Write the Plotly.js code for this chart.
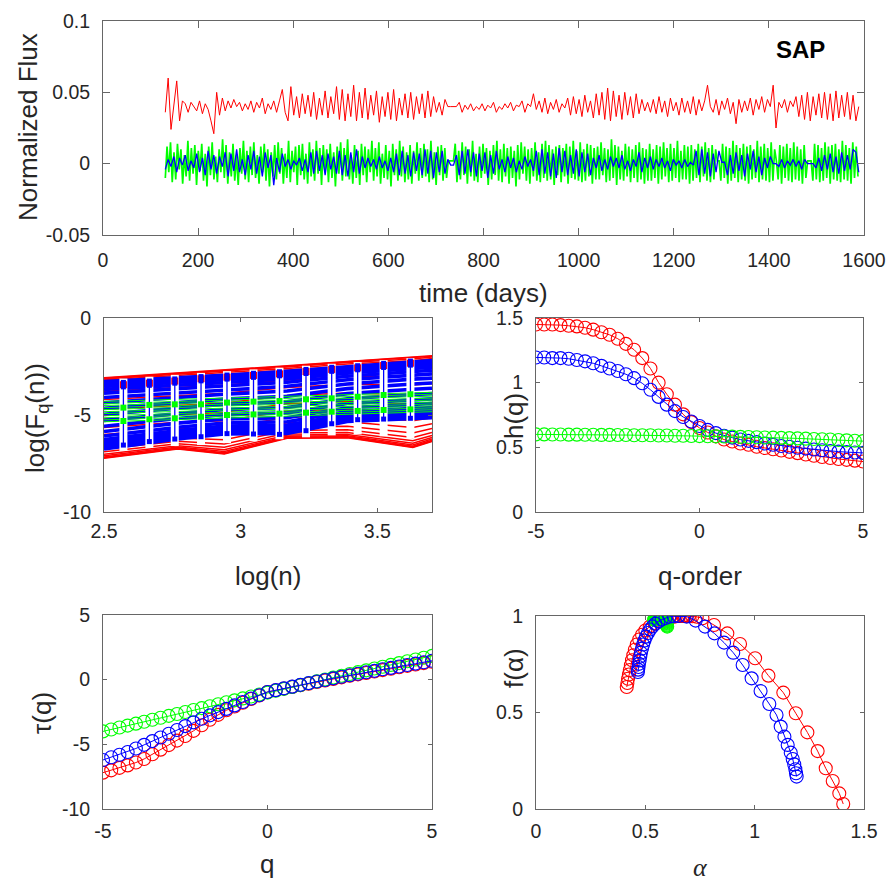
<!DOCTYPE html>
<html><head><meta charset="utf-8">
<script src="https://cdn.plot.ly/plotly-3.0.1.min.js"></script>
<style>html,body{margin:0;padding:0;background:#fff}#chart{width:890px;height:882px}</style>
</head><body><div id="chart"></div>
<script>
// ---------------- DATA ----------------
// Top panel: SAP light curves (regular cadence, start day + step)
const TIME_START = 131;
const RED_STEP = 6;
const BLUE_STEP = 6;
const GREEN_STEP = 3.65;

const SAP_RED = [
.036,.060,.024,.040,.058,.030,.044,.042,.036,.043,
.040,.037,.044,.035,.042,.038,.030,.021,.050,.034,
.046,.037,.044,.039,.045,.040,.043,.037,.042,.038,
.044,.036,.043,.039,.046,.035,.042,.038,.044,.036,
.044,.052,.036,.030,.054,.034,.047,.032,.049,.035,
.048,.033,.050,.031,.046,.034,.051,.032,.047,.035,
.054,.031,.052,.030,.049,.033,.055,.030,.050,.032,
.053,.031,.048,.034,.051,.029,.047,.033,.050,.031,
.052,.030,.046,.034,.049,.032,.050,.031,.047,.035,
.049,.032,.051,.033,.047,.036,.043,.034,.045,.040,
.040,.040,.040,.043,.036,.041,.038,.042,.037,.040,
.038,.042,.037,.041,.039,.043,.036,.040,.038,.042,
.039,.043,.037,.041,.040,.044,.036,.042,.040,.049,
.038,.044,.036,.046,.035,.043,.038,.045,.036,.042,
.039,.046,.034,.047,.035,.045,.033,.048,.036,.044,
.032,.049,.034,.050,.031,.053,.030,.051,.033,.048,
.031,.050,.034,.047,.032,.049,.035,.045,.037,.043,
.036,.045,.035,.047,.036,.044,.033,.046,.037,.043,
.034,.046,.036,.044,.035,.047,.034,.045,.037,.044,
.055,.040,.036,.045,.034,.044,.038,.046,.035,.043,
.028,.045,.036,.044,.037,.046,.034,.045,.038,.047,
.036,.045,.040,.055,.025,.043,.039,.045,.036,.044,
.040,.047,.033,.048,.031,.050,.030,.047,.034,.049,
.032,.050,.031,.049,.030,.051,.032,.048,.033,.050,
.031,.048,.030,.040];

const SAP_BLUE = [
-.004,.003,-.002,.005,-.006,.004,-.001,.006,-.005,.002,
-.003,.007,-.006,.004,-.008,.009,-.004,.006,-.007,.005,
-.002,.008,-.009,.007,-.005,.010,-.006,.003,-.008,.006,
-.004,.009,-.007,.005,-.009,.008,-.003,.006,-.015,.004,
-.006,.007,-.002,.003,-.004,.002,-.001,.004,-.005,.003,
-.006,.008,-.007,.009,-.005,.006,-.008,.007,-.004,.005,
-.007,.009,-.008,.006,-.009,.008,-.006,.010,-.007,.005,
-.003,.004,-.002,.003,-.004,.005,-.003,.002,-.005,.004,
-.006,.007,-.008,.009,-.007,.006,-.009,.008,-.005,.007,
-.008,.010,-.007,.009,-.010,.008,-.006,.009,-.007,.003,
-.001,-.001,.006,-.008,.009,-.007,.010,-.006,.008,-.009,
.007,-.005,.008,-.010,.006,-.007,.009,-.004,.003,-.006,
.005,-.003,.004,-.006,.002,-.004,.005,-.002,.003,-.005,
.009,-.008,.010,-.007,.008,-.009,.007,-.010,.011,-.006,
.009,-.008,.006,-.007,.010,-.009,.008,-.006,.007,-.008,
.004,-.003,.006,-.005,.003,-.004,.005,-.002,.004,-.003,
.006,-.004,.002,-.005,.003,-.002,.008,-.006,.004,-.003,
.005,-.004,.003,-.002,.004,-.003,.002,-.005,.003,-.001,
.002,-.003,.003,-.002,.001,-.001,.009,-.008,.010,-.007,
.008,-.009,.007,-.006,.009,.001,.001,-.008,.006,-.007,
.008,-.005,.006,-.009,.007,-.004,.009,-.006,.005,-.008,
.004,-.003,.005,.000,.000,-.002,.003,-.003,.002,-.001,
.003,-.002,.002,-.004,.003,.000,.000,.000,-.003,.004,
-.005,.006,-.004,.007,-.006,.005,-.007,.008,-.005,.006,
-.004,.010,.008,-.006];

const SAP_GREEN = [
-.010,.012,-.006,.015,-.013,.008,-.011,.014,-.004,.010,
-.014,.006,-.009,.016,-.012,.011,-.007,.013,-.015,.009,
-.005,.014,-.012,.007,-.016,.012,-.008,.015,-.011,.005,
-.013,.010,-.006,.017,-.010,.013,-.014,.008,-.009,.014,
-.012,.006,-.015,.011,-.007,.016,-.011,.009,-.013,.012,
-.008,.015,-.010,.006,-.014,.012,-.006,.014,-.012,.010,
-.016,.008,-.009,.013,-.011,.015,-.007,.011,-.014,.007,
-.010,.016,-.013,.009,-.006,.012,-.015,.013,-.008,.014,
-.011,.007,-.014,.015,-.009,.010,-.012,.016,-.007,.011,
-.015,.013,-.006,.010,-.013,.014,-.010,.008,-.016,.012,
-.007,.015,-.012,.011,-.009,.017,-.011,.006,-.014,.013,
-.010,.009,-.015,.014,-.008,.012,-.013,.010,-.006,.016,
-.012,.011,-.009,.015,-.014,.007,-.010,.013,-.011,.009,
-.016,.014,-.008,.010,-.012,.016,-.009,.012,-.013,.008,
-.011,.013,-.014,.009,-.007,.015,-.012,.011,-.010,.014,
-.009,.010,-.013,.016,-.011,.008,-.015,.012,-.008,.013,
-.012,.011,-.010,.002,.002,.002,.002,.014,-.013,.009,
-.011,.015,-.008,.012,-.014,.010,-.009,.016,-.012,.007,
-.013,.012,-.010,.014,-.007,.011,-.015,.009,-.011,.013,
-.008,.016,-.012,.010,-.013,.014,-.009,.011,-.014,.012,
-.010,.009,-.016,.013,-.011,.015,-.007,.012,-.012,.010,
-.014,.011,-.009,.015,-.012,.008,-.013,.014,-.010,.016,
-.012,.013,-.011,.010,-.015,.012,-.008,.013,-.013,.011,
-.009,.014,-.014,.012,-.010,.016,-.011,.009,-.012,.015,
-.013,.010,-.012,.014,-.009,.013,-.014,.011,-.011,.012,
-.011,.015,-.008,.011,-.013,.010,-.012,.017,-.010,.013,
-.015,.012,-.011,.009,-.012,.014,-.009,.012,-.013,.010,
-.010,.013,-.013,.015,-.011,.011,-.014,.010,-.012,.014,
-.012,.010,-.010,.013,-.014,.012,-.011,.015,-.009,.011,
-.013,.014,-.012,.011,-.010,.016,-.013,.009,-.011,.013,
-.011,.012,-.014,.013,-.012,.010,-.010,.014,-.013,.012,
-.009,.015,-.012,.011,-.013,.013,-.011,.010,.002,.002,
-.012,.014,-.010,.012,-.014,.011,-.012,.016,-.010,.013,
-.013,.011,-.011,.014,-.012,.012,-.014,.013,-.011,.010,
-.010,.016,-.013,.012,-.011,.014,-.012,.011,-.013,.015,
-.012,.010,.002,-.011,.013,-.014,.012,-.010,.014,-.012,
.011,-.013,.015,-.011,.012,-.012,.010,-.014,.013,-.010,
.002,.002,.002,-.012,.014,-.011,.013,-.013,.011,-.012,
.015,-.010,.012,-.014,.013,-.011,.014,-.012,.010,-.013,
.016,-.011,.013,-.012,.011,-.014,.015,-.010,.012,-.009];

// Fluctuation functions log(Fq(n)), one row per q
const LOGN_NODES = [2.5, 2.77, 2.94, 3.17, 3.39, 3.63, 3.70];
const FQ_RED = [
[-7.23,-6.75,-7.01,-6.20,-6.17,-6.68,-6.37],
[-7.20,-6.73,-6.98,-6.18,-6.15,-6.65,-6.34],
[-7.16,-6.70,-6.94,-6.15,-6.12,-6.61,-6.30],
[-7.10,-6.65,-6.88,-6.10,-6.07,-6.55,-6.24],
[-7.02,-6.58,-6.79,-6.03,-6.00,-6.46,-6.16],
[-6.90,-6.48,-6.66,-5.93,-5.90,-6.33,-6.05],
[-6.75,-6.35,-6.49,-5.80,-5.76,-6.16,-5.90],
[-6.55,-6.18,-6.27,-5.62,-5.58,-5.93,-5.70],
[-6.30,-5.97,-6.00,-5.40,-5.35,-5.65,-5.45],
[-6.00,-5.70,-5.68,-5.12,-5.05,-5.30,-5.14],
[-5.65,-5.38,-5.30,-4.80,-4.70,-4.90,-4.78],
[-5.20,-4.98,-4.86,-4.42,-4.30,-4.45,-4.36],
[-4.70,-4.52,-4.38,-4.00,-3.86,-3.96,-3.88],
[-4.20,-4.02,-3.88,-3.58,-3.42,-3.45,-3.38],
[-3.78,-3.58,-3.45,-3.20,-3.02,-2.98,-2.90],
[-3.48,-3.26,-3.12,-2.90,-2.70,-2.60,-2.50],
[-3.30,-3.06,-2.92,-2.71,-2.49,-2.35,-2.24],
[-3.20,-2.96,-2.81,-2.60,-2.37,-2.20,-2.09],
[-3.14,-2.90,-2.75,-2.53,-2.30,-2.11,-2.01],
[-3.10,-2.86,-2.71,-2.49,-2.26,-2.06,-1.97],
[-3.08,-2.84,-2.68,-2.46,-2.24,-2.03,-1.94]];
const FQ_BLUE = [
[-6.75,-6.23,-5.98,-5.95,-5.33,-5.17,-5.14],
[-6.70,-6.18,-5.94,-5.91,-5.29,-5.13,-5.10],
[-6.63,-6.12,-5.88,-5.85,-5.24,-5.08,-5.05],
[-6.54,-6.04,-5.80,-5.77,-5.17,-5.01,-4.98],
[-6.42,-5.93,-5.70,-5.66,-5.08,-4.92,-4.89],
[-6.27,-5.80,-5.57,-5.52,-4.97,-4.80,-4.77],
[-6.08,-5.63,-5.41,-5.35,-4.82,-4.64,-4.61],
[-5.85,-5.42,-5.21,-5.14,-4.63,-4.44,-4.41],
[-5.58,-5.18,-4.98,-4.89,-4.41,-4.21,-4.17],
[-5.28,-4.91,-4.72,-4.61,-4.16,-3.94,-3.90],
[-4.97,-4.63,-4.45,-4.32,-3.90,-3.67,-3.62],
[-4.66,-4.35,-4.18,-4.03,-3.64,-3.40,-3.35],
[-4.37,-4.09,-3.93,-3.76,-3.40,-3.15,-3.10],
[-4.10,-3.85,-3.70,-3.52,-3.18,-2.93,-2.88],
[-3.87,-3.64,-3.50,-3.31,-3.00,-2.75,-2.69],
[-3.68,-3.47,-3.33,-3.14,-2.85,-2.60,-2.54],
[-3.53,-3.33,-3.20,-3.00,-2.73,-2.48,-2.42],
[-3.42,-3.23,-3.10,-2.90,-2.64,-2.39,-2.33],
[-3.35,-3.16,-3.03,-2.83,-2.58,-2.33,-2.26],
[-3.31,-3.12,-2.99,-2.78,-2.54,-2.29,-2.22],
[-3.28,-3.09,-2.96,-2.75,-2.51,-2.26,-2.19]];
const LOGN_GREEN_NODES = [2.5, 3.70];
const FQ_GREEN = [
[-5.35,-4.83],[-5.25,-4.73],[-5.14,-4.63],[-5.04,-4.53],[-4.93,-4.43],[-4.83,-4.33],
[-4.72,-4.23],[-4.62,-4.13],[-4.51,-4.03],[-4.41,-3.93],[-4.30,-3.83]];

// Scale points with error columns
const LOGN_BAR = [2.571,2.666,2.759,2.855,2.950,3.047,3.142,3.239,3.333,3.428,3.523,3.621];
const WHITE_TOP = [-3.12,-3.03,-2.93,-2.83,-2.74,-2.65,-2.56,-2.46,-2.36,-2.27,-2.17,-2.07];
const WHITE_BOT = [-6.85,-6.70,-6.60,-6.55,-6.45,-6.35,-6.25,-6.15,-6.05,-6.00,-6.10,-6.20];
const BLUE_TOP_MK = [-3.32,-3.25,-3.14,-3.02,-2.94,-2.85,-2.77,-2.65,-2.54,-2.46,-2.34,-2.22];
const BLUE_TOP2_MK = [-3.55,-3.47,-3.36,-3.24,-3.15,-3.06,-2.98,-2.86,-2.75,-2.67,-2.55,-2.43];
const RED_MK = [-3.44,-3.36,-3.25,-3.13,-3.05,-2.96,-2.88,-2.76,-2.65,-2.57,-2.45,-2.33];
const BLUE_BOT_MK = [-6.55,-6.37,-6.24,-6.12,-5.96,-5.98,-6.00,-5.81,-5.45,-5.24,-5.21,-5.17];
const GREEN_HI_MK = [-4.62,-4.48,-4.45,-4.45,-4.36,-4.31,-4.28,-4.19,-4.14,-4.06,-3.97,-3.93];
const GREEN_LO_MK = [-5.31,-5.22,-5.17,-5.09,-5.00,-4.97,-4.93,-4.88,-4.83,-4.79,-4.74,-4.71];

// q-order
const Q = [-5,-4.75,-4.5,-4.25,-4,-3.75,-3.5,-3.25,-3,-2.75,-2.5,-2.25,-2,-1.75,-1.5,-1.25,-1,-0.75,-0.5,-0.25,
0,0.25,0.5,0.75,1,1.25,1.5,1.75,2,2.25,2.5,2.75,3,3.25,3.5,3.75,4,4.25,4.5,4.75,5];

const H_RED = [1.45,1.45,1.45,1.445,1.44,1.435,1.425,1.41,1.39,1.37,1.34,1.30,1.255,1.19,1.11,1.00,0.91,0.83,0.755,0.695,
0.65,0.615,0.585,0.56,0.545,0.53,0.52,0.505,0.495,0.485,0.475,0.465,0.455,0.445,0.435,0.425,0.418,0.41,0.403,0.397,0.39];
const H_BLUE = [1.195,1.195,1.19,1.19,1.185,1.175,1.165,1.15,1.13,1.11,1.09,1.065,1.035,0.995,0.945,0.89,0.83,0.78,0.735,0.70,
0.665,0.635,0.61,0.59,0.575,0.56,0.55,0.54,0.53,0.52,0.51,0.505,0.497,0.49,0.483,0.477,0.472,0.467,0.463,0.46,0.457];
const H_GREEN = [0.600,0.600,0.599,0.599,0.598,0.598,0.597,0.597,0.596,0.596,0.595,0.595,0.594,0.594,0.593,0.592,0.591,0.590,0.589,0.588,
0.587,0.586,0.585,0.584,0.583,0.581,0.580,0.578,0.576,0.575,0.573,0.571,0.569,0.567,0.565,0.562,0.560,0.557,0.554,0.551,0.548];

const TAU_RED = [-7.19,-7.01,-6.82,-6.63,-6.41,-6.13,-5.77,-5.41,-5.06,-4.71,-4.35,-3.96,-3.52,-3.10,-2.72,-2.37,-2.07,-1.78,-1.50,-1.22,
-0.95,-0.82,-0.69,-0.56,-0.43,-0.31,-0.18,-0.06,0.06,0.18,0.30,0.41,0.52,0.63,0.74,0.85,0.96,1.07,1.17,1.28,1.38];
const TAU_BLUE = [-6.21,-6.00,-5.80,-5.59,-5.32,-5.04,-4.75,-4.47,-4.18,-3.89,-3.59,-3.30,-3.02,-2.76,-2.51,-2.26,-1.99,-1.73,-1.46,-1.20,
-0.95,-0.81,-0.67,-0.54,-0.40,-0.27,-0.14,-0.02,0.10,0.22,0.34,0.46,0.57,0.68,0.80,0.91,1.02,1.13,1.24,1.35,1.46];
const TAU_GREEN = [-4.00,-3.85,-3.70,-3.55,-3.40,-3.25,-3.10,-2.95,-2.80,-2.65,-2.50,-2.35,-2.20,-2.05,-1.90,-1.75,-1.60,-1.45,-1.30,-1.15,
-1.00,-0.86,-0.71,-0.57,-0.42,-0.28,-0.13,0.01,0.16,0.30,0.44,0.58,0.72,0.86,1.00,1.14,1.28,1.42,1.56,1.70,1.84];

const ALPHA_RED = [1.405,1.387,1.357,1.325,1.288,1.241,1.188,1.131,1.063,1.002,0.933,0.875,0.814,0.761,0.735,0.715,0.70,0.69,0.68,0.675,
0.67,0.655,0.635,0.612,0.59,0.566,0.543,0.52,0.50,0.485,0.472,0.461,0.452,0.445,0.439,0.434,0.429,0.425,0.421,0.418,0.415];
const F_RED = [0.026,0.081,0.145,0.211,0.300,0.397,0.496,0.603,0.691,0.781,0.855,0.910,0.953,0.988,0.996,0.999,1.0,1.0,1.0,1.0,
1.0,1.0,0.997,0.993,0.985,0.975,0.962,0.945,0.925,0.903,0.878,0.852,0.825,0.797,0.771,0.745,0.72,0.697,0.675,0.653,0.632];
const ALPHA_BLUE = [1.192,1.189,1.186,1.181,1.174,1.165,1.151,1.136,1.119,1.10,1.067,1.027,0.986,0.945,0.902,0.86,0.816,0.773,0.73,0.689,
0.651,0.63,0.61,0.592,0.575,0.56,0.546,0.533,0.522,0.512,0.503,0.496,0.49,0.485,0.48,0.477,0.474,0.471,0.469,0.467,0.466];
const F_BLUE = [0.168,0.185,0.206,0.231,0.259,0.292,0.332,0.375,0.427,0.487,0.544,0.611,0.677,0.746,0.81,0.862,0.91,0.945,0.976,0.997,
1.0,0.999,0.996,0.99,0.982,0.972,0.96,0.946,0.93,0.912,0.893,0.873,0.852,0.831,0.81,0.79,0.77,0.752,0.736,0.722,0.71];
const ALPHA_GREEN = [0.600,0.599,0.598,0.597,0.596,0.595,0.594,0.593,0.592,0.591,0.590,0.589,0.588,0.587,0.586,0.585,0.584,0.583,0.582,0.581,
0.580,0.578,0.576,0.574,0.572,0.570,0.568,0.566,0.564,0.562,0.560,0.558,0.556,0.554,0.552,0.550,0.548,0.546,0.544,0.542,0.540];
const F_GREEN = [0.945,0.950,0.955,0.960,0.964,0.968,0.972,0.976,0.979,0.982,0.985,0.988,0.990,0.992,0.994,0.996,0.997,0.998,0.999,1.0,
1.0,1.0,0.999,0.998,0.997,0.996,0.995,0.994,0.993,0.992,0.991,0.990,0.989,0.988,0.987,0.986,0.985,0.984,0.983,0.982,0.981];

// Tick labels
const TOP_X_TICKS = [0,200,400,600,800,1000,1200,1400,1600];
const TOP_Y_TICKVALS = [-0.05,0,0.05,0.1];
const TOP_Y_TICKTEXT = ['-0.05','0','0.05','0.1'];
const FQ_X_TICKS = [2.5,3,3.5];
const FQ_Y_TICKVALS = [-10,-5,0];
const FQ_Y_TICKTEXT = ['-10','-5','0'];
const Q_TICKVALS = [-5,0,5];
const Q_TICKTEXT = ['-5','0','5'];
const H_TICKS = [0,0.5,1,1.5];
const TAU_TICKVALS = [-10,-5,0,5];
const TAU_TICKTEXT = ['-10','-5','0','5'];
const ALPHA_TICKS = [0,0.5,1,1.5];
const FA_TICKS = [0,0.5,1];

// ---------------- BUILD ----------------
const RED='#ff0000', BLUE='#0000ff', GREEN='#00ff00';
const W=890, H=882;
const FONT='Liberation Sans, Arial, sans-serif';

function bundle(nodes, rows){
  const x=[], y=[];
  rows.forEach(r=>{ nodes.forEach((n,i)=>{x.push(n); y.push(r[i]);}); x.push(null); y.push(null); });
  return {x, y};
}
function segs(xs, a, b){
  const x=[], y=[];
  xs.forEach((v,i)=>{ x.push(v,v,null); y.push(a[i],b[i],null); });
  return {x, y};
}

const traces = [];
// top panel
traces.push({type:'scatter',mode:'lines',x0:TIME_START,dx:GREEN_STEP,y:SAP_GREEN,line:{color:GREEN,width:1.7},xaxis:'x',yaxis:'y',hoverinfo:'skip'});
traces.push({type:'scatter',mode:'lines',x0:TIME_START,dx:BLUE_STEP,y:SAP_BLUE,line:{color:BLUE,width:1.3},xaxis:'x',yaxis:'y',hoverinfo:'skip'});
traces.push({type:'scatter',mode:'lines',x0:TIME_START,dx:RED_STEP,y:SAP_RED,line:{color:RED,width:1},xaxis:'x',yaxis:'y',hoverinfo:'skip'});

// Fq panel
const br=bundle(LOGN_NODES,FQ_RED), bb=bundle(LOGN_NODES,FQ_BLUE), bg=bundle(LOGN_GREEN_NODES,FQ_GREEN);
traces.push({type:'scatter',mode:'lines',x:br.x,y:br.y,line:{color:RED,width:1.5},xaxis:'x2',yaxis:'y2',hoverinfo:'skip'});
traces.push({type:'scatter',mode:'lines',x:bb.x,y:bb.y,line:{color:BLUE,width:3.6},xaxis:'x2',yaxis:'y2',hoverinfo:'skip'});
traces.push({type:'scatter',mode:'lines',x:bg.x,y:bg.y,line:{color:GREEN,width:1},xaxis:'x2',yaxis:'y2',hoverinfo:'skip'});
const wb=segs(LOGN_BAR,WHITE_TOP,WHITE_BOT);
traces.push({type:'scatter',mode:'lines',x:wb.x,y:wb.y,line:{color:'#ffffff',width:8},xaxis:'x2',yaxis:'y2',hoverinfo:'skip'});
const cb=segs(LOGN_BAR,BLUE_TOP_MK,BLUE_BOT_MK);
traces.push({type:'scatter',mode:'lines',x:cb.x,y:cb.y,line:{color:BLUE,width:1.3},xaxis:'x2',yaxis:'y2',hoverinfo:'skip'});
traces.push({type:'scatter',mode:'markers',x:LOGN_BAR,y:RED_MK,marker:{symbol:'square',size:7,color:RED},xaxis:'x2',yaxis:'y2',hoverinfo:'skip'});
traces.push({type:'scatter',mode:'markers',x:LOGN_BAR.concat(LOGN_BAR,LOGN_BAR),y:BLUE_TOP_MK.concat(BLUE_TOP2_MK,BLUE_BOT_MK),marker:{symbol:'square',size:5,color:BLUE},xaxis:'x2',yaxis:'y2',hoverinfo:'skip'});
traces.push({type:'scatter',mode:'markers',x:LOGN_BAR.concat(LOGN_BAR),y:GREEN_HI_MK.concat(GREEN_LO_MK),marker:{symbol:'square',size:6,color:GREEN},xaxis:'x2',yaxis:'y2',hoverinfo:'skip'});

function circ(x,y,c,xa,ya){
  return {type:'scatter',mode:'lines+markers',x:x,y:y,line:{color:c,width:1},
    marker:{symbol:'circle-open',size:13,color:c,line:{width:1.1,color:c}},xaxis:xa,yaxis:ya,hoverinfo:'skip'};
}
// h(q)
traces.push(circ(Q,H_RED,RED,'x3','y3'));
traces.push(circ(Q,H_BLUE,BLUE,'x3','y3'));
traces.push(circ(Q,H_GREEN,GREEN,'x3','y3'));
// tau(q)
traces.push(circ(Q,TAU_RED,RED,'x4','y4'));
traces.push(circ(Q,TAU_GREEN,GREEN,'x4','y4'));
traces.push(circ(Q,TAU_BLUE,BLUE,'x4','y4'));
// f(alpha)
traces.push(circ(ALPHA_RED,F_RED,RED,'x5','y5'));
traces.push(circ(ALPHA_GREEN,F_GREEN,GREEN,'x5','y5'));
traces.push(circ(ALPHA_BLUE,F_BLUE,BLUE,'x5','y5'));

const dx=(a,b)=>[a/W,b/W];
const dy=(top,bot)=>[1-bot/H,1-top/H];
function axis(domain, range, vals, text, anchor, tl, standoff){
  return {domain, range, tickmode:'array', tickvals:vals, ticktext:text||vals.map(String),
    showline:true, mirror:'ticks', linecolor:'#666', linewidth:1, ticks:'inside', ticklen:tl, tickcolor:'#666', tickwidth:1,
    tickfont:{family:FONT,size:19.5,color:'#262626'}, showgrid:false, zeroline:false, anchor, fixedrange:true,
    ticklabelstandoff:standoff};
}
const layout = {
  width:W, height:H, margin:{l:0,r:0,t:0,b:0}, paper_bgcolor:'#fff', plot_bgcolor:'#fff', showlegend:false,
  xaxis: axis(dx(103,864),[0,1600],TOP_X_TICKS,null,'y',7,8),
  yaxis: axis(dy(21,235),[-0.05,0.1],TOP_Y_TICKVALS,TOP_Y_TICKTEXT,'x',7,8),
  xaxis2: axis(dx(104,432),[2.5,3.70],FQ_X_TICKS,null,'y2',4,2),
  yaxis2: axis(dy(318,512),[-10,0],FQ_Y_TICKVALS,FQ_Y_TICKTEXT,'x2',4,8),
  xaxis3: axis(dx(536,863),[-5,5],Q_TICKVALS,Q_TICKTEXT,'y3',4,2),
  yaxis3: axis(dy(318,512),[0,1.5],H_TICKS,null,'x3',4,8),
  xaxis4: axis(dx(103,432),[-5,5],Q_TICKVALS,Q_TICKTEXT,'y4',4,5),
  yaxis4: axis(dy(615,809),[-10,5],TAU_TICKVALS,TAU_TICKTEXT,'x4',4,8),
  xaxis5: axis(dx(536,864),[0,1.5],ALPHA_TICKS,null,'y5',4,5),
  yaxis5: axis(dy(616,809),[0,1],FA_TICKS,null,'x5',4,8),
  annotations: []
};
function ann(text,px,py,rot,size,extra){
  return Object.assign({text, xref:'paper', yref:'paper', x:px/W, y:1-py/H, xanchor:'center', yanchor:'middle',
    showarrow:false, textangle:rot||0, font:{family:FONT,size:size||26,color:'#262626'}}, extra||{});
}
layout.annotations.push(ann('Normalized Flux',28,127,-90));
layout.annotations.push(ann('time (days)',483,293));
layout.annotations.push(ann('log(F<sub>q</sub>(n))',37,418,-90));
layout.annotations.push(ann('log(n)',268,576));
layout.annotations.push(ann('h(q)',514,416,-90));
layout.annotations.push(ann('q-order',700,576));
layout.annotations.push(ann('τ(q)',42,713,-90));
layout.annotations.push(ann('q',267,864));
layout.annotations.push(ann('f(α)',514,668,-90));
layout.annotations.push(ann('<i>α</i>',700,867,0,26,{font:{family:'Liberation Serif, serif',size:26,color:'#262626'}}));
layout.annotations.push(ann('<b>SAP</b>',800,50,0,24,{font:{family:FONT,size:24,color:'#000'}}));

Plotly.newPlot('chart', traces, layout, {staticPlot:true, displayModeBar:false});
</script></body></html>
